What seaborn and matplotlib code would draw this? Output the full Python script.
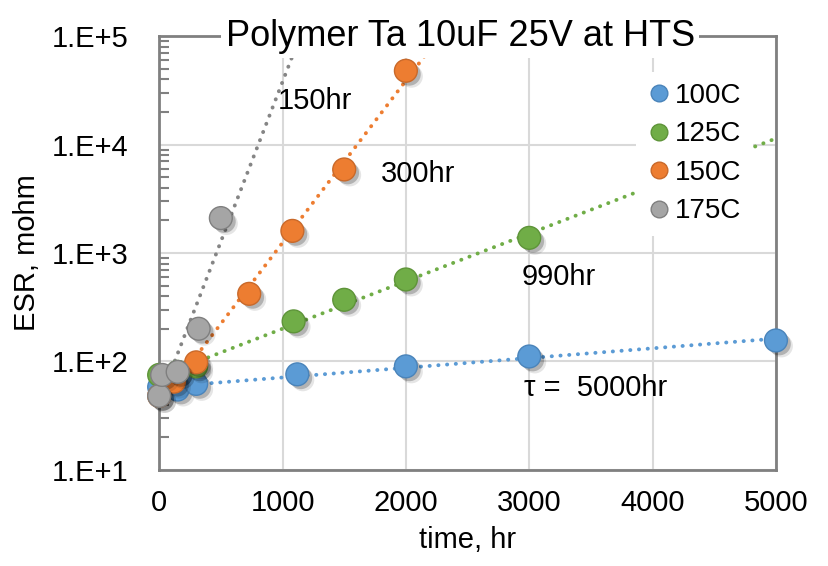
import numpy as np
import pandas as pd
import seaborn as sns
import matplotlib.pyplot as plt
import matplotlib.patheffects as pe
from matplotlib.lines import Line2D
from matplotlib.ticker import NullFormatter

# ESR (mohm) vs time at each test temperature
t_100 = [0, 150, 300, 1120, 2000, 3000, 5000]
esr_100 = [58, 55, 62, 76, 90, 111, 156]
t_125 = [0, 150, 300, 1090, 1500, 2000, 3000]
esr_125 = [75, 80, 90, 234, 370, 570, 1380]
t_150 = [0, 120, 300, 730, 1080, 1500, 2000]
esr_150 = [48, 65, 98, 420, 1600, 5900, 48000]
t_175 = [0, 24, 150, 320, 500]
esr_175 = [48, 75, 80, 200, 2100]

temps = ['100C', '125C', '150C', '175C']
series = {'100C': (t_100, esr_100), '125C': (t_125, esr_125),
          '150C': (t_150, esr_150), '175C': (t_175, esr_175)}
colors = {'100C': '#5B9BD5', '125C': '#70AD47', '150C': '#ED7D31', '175C': '#A5A5A5'}
edges = {'100C': '#4A84BA', '125C': '#5E9439', '150C': '#C9692A', '175C': '#7F7F7F'}
trend_colors = {'100C': '#5B9BD5', '125C': '#70AD47', '150C': '#ED7D31', '175C': '#858585'}

# tau labels (text, x in hr, y in mohm)
tau_text = ['150hr', '300hr', '990hr', 'τ =  5000hr']
tau_x = [960, 1800, 2940, 2960]
tau_y = [25000, 5400, 600, 57]

df = pd.concat([pd.DataFrame({'time': series[k][0], 'esr': series[k][1], 'temp': k})
                for k in temps], ignore_index=True)

sns.set_style('white')
plt.rcParams['font.family'] = ['Liberation Sans', 'DejaVu Sans']
plt.rcParams['text.color'] = 'black'
plt.rcParams['axes.labelcolor'] = 'black'

fig = plt.figure(figsize=(8.29, 5.66), dpi=100)
ax = fig.add_axes([0.192, 0.170, 0.744, 0.766])

# soft-ish drop shadow under the markers
shadow = [pe.SimplePatchShadow(offset=(4, -4), shadow_rgbFace='black', alpha=0.10),
          pe.SimplePatchShadow(offset=(2.5, -2.5), shadow_rgbFace='black', alpha=0.22),
          pe.Normal()]

tt = np.linspace(0, 5000, 400)
for k in temps:
    sub = df[df['temp'] == k]
    # exponential trendline, like excel: fit ln(esr) vs time
    c = np.polyfit(sub['time'], np.log(sub['esr']), 1)
    ax.plot(tt, np.exp(c[1] + c[0] * tt), color=trend_colors[k], lw=2.8,
            linestyle=(0, (0.05, 2.2)), dash_capstyle='round', zorder=3)
for k in temps:
    sub = df[df['temp'] == k]
    sns.scatterplot(data=sub, x='time', y='esr', color=colors[k], edgecolor=edges[k],
                    linewidth=1, s=270, legend=False, ax=ax, zorder=4, clip_on=False)
    ax.collections[-1].set_path_effects(shadow)

ax.set_yscale('log')
ax.set_xlim(0, 5000)
ax.set_ylim(10, 1e5)
ax.set_xticks([0, 1000, 2000, 3000, 4000, 5000])
ax.set_yticks([10, 100, 1000, 1e4, 1e5], ['1.E+1', '1.E+2', '1.E+3', '1.E+4', '1.E+5'])
ax.yaxis.set_minor_formatter(NullFormatter())
ax.tick_params(axis='x', length=0, pad=14, labelsize=21, labelcolor='black')
ax.tick_params(axis='y', which='major', direction='in', length=7, width=1.5,
               color='#808080', pad=22, labelsize=21, labelcolor='black')
ax.tick_params(axis='y', which='minor', direction='in', length=7, width=1.5,
               color='#808080', left=True)
ax.grid(True, which='major', color='#D9D9D9', lw=1.5)
ax.set_axisbelow(True)
for s in ax.spines.values():
    s.set_color('#808080')
    s.set_linewidth(2)

ax.set_xlabel('time, hr', fontsize=21, labelpad=6)
ax.set_ylabel('ESR, mohm', fontsize=21, labelpad=8)

for txt, x, y in zip(tau_text, tau_x, tau_y):
    ax.text(x, y, txt, fontsize=21, ha='left', va='center', zorder=5)

ax.text(0.488, 1.0, 'Polymer Ta 10uF 25V at HTS', transform=ax.transAxes, fontsize=26,
        ha='center', va='center', zorder=10,
        bbox=dict(facecolor='white', edgecolor='none', pad=3))

handles = [Line2D([], [], marker='o', ls='', markersize=12, markerfacecolor=colors[k],
                  markeredgecolor=edges[k], label=k) for k in temps]
ax.legend(handles=handles, loc='upper right', bbox_to_anchor=(0.985, 0.95), fontsize=20,
          frameon=True, facecolor='white', edgecolor='none', framealpha=1,
          handletextpad=0.2, labelspacing=0.45, handlelength=0.8, borderpad=0.4)

fig.savefig('out.png', dpi=100)
